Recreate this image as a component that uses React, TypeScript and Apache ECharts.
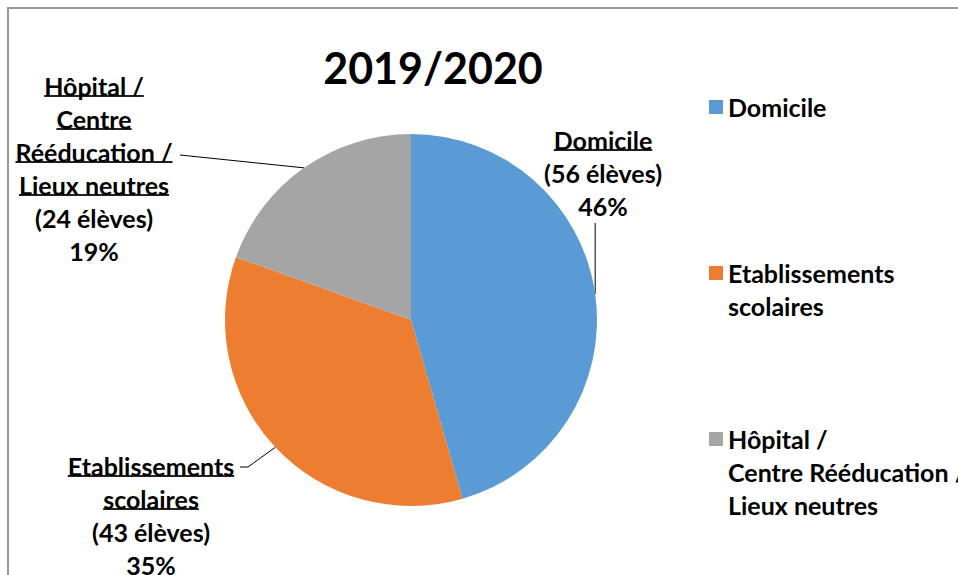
import React, { useEffect, useRef } from "react";
import * as echarts from "echarts";

const titleText = "2019/2020";
const categories = ["Domicile", "Etablissements scolaires", "Hôpital / Centre Rééducation / Lieux neutres"];
const values = [56, 43, 24];
const percentLabels = ["46%", "35%", "19%"];
const labelNameLines = [["Domicile"], ["Etablissements", "scolaires"], ["Hôpital /", "Centre", "Rééducation /", "Lieux neutres"]];
const legendLines = [["Domicile"], ["Etablissements", "scolaires"], ["Hôpital /", "Centre Rééducation /", "Lieux neutres"]];
const colors = ["#5b9bd5", "#ed7d31", "#a5a5a5"];

const FONT = "Lato";
const FS = 25;
const LH = 33;

export default function App() {
  const ref = useRef<HTMLDivElement>(null);
  useEffect(() => {
    if (!ref.current) return;
    const chart = echarts.init(ref.current, null, { renderer: "svg" });
    const underline = new echarts.graphic.LinearGradient(0, 0, 0, 1, [
      { offset: 0, color: "rgba(0,0,0,0)" },
      { offset: 0.8, color: "rgba(0,0,0,0)" },
      { offset: 0.8, color: "#222" },
      { offset: 0.84, color: "#222" },
      { offset: 0.84, color: "rgba(0,0,0,0)" },
      { offset: 1, color: "rgba(0,0,0,0)" },
    ]);
    const labelPos = [
      { x: 603, y: 123 },
      { x: 151, y: 449 },
      { x: 94, y: 69 },
    ];
    const legendTops = [107, 273, 439];
    const option: any = {
      animation: false,
      backgroundColor: "#fff",
      title: {
        text: titleText,
        left: 428,
        textAlign: "center",
        top: 37,
        padding: 5,
        textStyle: { fontFamily: FONT, fontWeight: "bold", fontSize: 43, lineHeight: 50, color: "#000" },
      },
      legend: categories.map((c, i) => {
        const n = legendLines[i].length;
        return {
          data: [c],
          orient: "vertical",
          left: 709,
          top: legendTops[i] - ((2 * n - 1) * LH) / 2,
          padding: 0,
          icon: "rect",
          itemWidth: 14,
          itemHeight: 14,
          selectedMode: false,
          formatter: () => "\n".repeat(n - 1) + legendLines[i].join("\n"),
          textStyle: {
            fontFamily: FONT,
            fontWeight: "bold",
            fontSize: FS,
            lineHeight: LH,
            color: "#000",
          },
        };
      }),
      graphic: [
        {
          type: "rect",
          shape: { x: 8, y: 8, width: 1200, height: 900 },
          style: { fill: "none", stroke: "#999", lineWidth: 2 },
          silent: true,
        },
      ],
      series: [
        {
          type: "pie",
          center: [411, 320],
          radius: 186,
          startAngle: 90,
          clockwise: true,
          data: categories.map((c, i) => ({ name: c, value: values[i], itemStyle: { color: colors[i] } })),
          itemStyle: { borderWidth: 0 },
          label: {
            show: true,
            position: "outside",
            fontFamily: FONT,
            fontWeight: "bold",
            fontSize: FS,
            lineHeight: LH,
            color: "#000",
            align: "center",
            formatter: (p: any) => {
              const i = p.dataIndex;
              const lines = labelNameLines[i].map((l) => `{u|${l}}`);
              lines.push(`{t|(${values[i]} élèves)}`);
              lines.push(`{t|${percentLabels[i]}}`);
              return lines.join("\n");
            },
            rich: {
              u: { fontFamily: FONT, fontWeight: "bold", fontSize: FS, lineHeight: LH, height: LH, color: "#000", backgroundColor: underline },
              t: { fontFamily: FONT, fontWeight: "bold", fontSize: FS, lineHeight: LH, height: LH, color: "#000" },
            },
          },
          labelLine: { show: true, lineStyle: { color: "#000", width: 1 } },
          labelLayout: (p: any) => {
            const i = p.dataIndex;
            const s = p.labelLinePoints ? p.labelLinePoints[0] : [0, 0];
            let pts: number[][];
            if (i === 0) pts = [s, [s[0], labelPos[0].y + 100]];
            else if (i === 1) pts = [s, [248, 467], [240, 467]];
            else pts = [s, [180, 155]];
            return {
              x: labelPos[i].x,
              y: labelPos[i].y,
              align: "center",
              verticalAlign: "top",
              labelLinePoints: pts,
            };
          },
        },
      ],
    };
    chart.setOption(option);
    return () => chart.dispose();
  }, []);
  return <div ref={ref} style={{ position: "absolute", left: 0, top: 0, width: 958, height: 575 }} />;
}
